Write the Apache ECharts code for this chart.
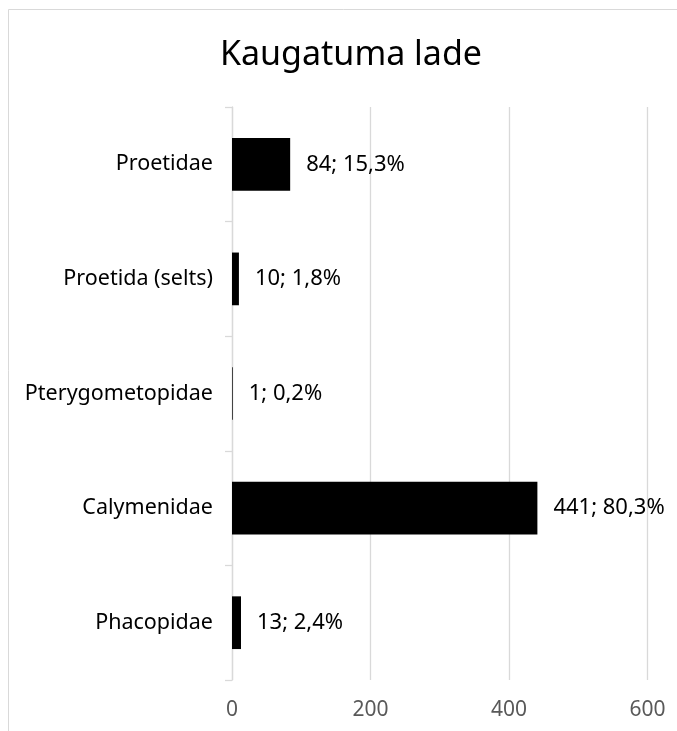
<!DOCTYPE html>
<html>
<head>
<meta charset="utf-8">
<script src="https://cdn.jsdelivr.net/npm/echarts@6/dist/echarts.min.js"></script>
<style>
html,body{margin:0;padding:0;background:#fff;}
#c{width:677px;height:731px;}
</style>
</head>
<body>
<div id="c"></div>
<script>
const categories = ["Proetidae", "Proetida (selts)", "Pterygometopidae", "Calymenidae", "Phacopidae"];
const counts = [84, 10, 1, 441, 13];
const percents = ["15,3", "1,8", "0,2", "80,3", "2,4"];
const xTicks = [0, 200, 400, 600];
const title = "Kaugatuma lade";

const FONT = "'Noto Sans', 'Liberation Sans', sans-serif";
const chart = echarts.init(document.getElementById('c'), null, {renderer: 'canvas'});
chart.setOption({
  animation: false,
  backgroundColor: '#fff',
  graphic: [{
    type: 'rect', left: 6, top: 7, shape: {width: 690, height: 740},
    style: {fill: 'none', stroke: '#d9d9d9', lineWidth: 1}, silent: true, z: -1
  }],
  title: {
    text: title, left: 346, top: 33, textAlign: 'center',
    textStyle: {fontFamily: FONT, fontSize: 34, fontWeight: 'normal', color: '#000'}
  },
  grid: {left: 232, right: 29.5, top: 107, bottom: 51},
  xAxis: {
    type: 'value', min: xTicks[0], max: xTicks[xTicks.length - 1], interval: 200,
    axisLine: {show: false}, axisTick: {show: false},
    splitLine: {lineStyle: {color: '#d9d9d9', width: 1.3}},
    axisLabel: {fontFamily: FONT, fontSize: 21, color: '#595959', margin: 20}
  },
  yAxis: {
    type: 'category', data: categories, inverse: true,
    axisLine: {show: true, lineStyle: {color: '#d9d9d9', width: 1.3}},
    axisTick: {show: true, length: 7, lineStyle: {color: '#d9d9d9', width: 1.3}},
    axisLabel: {fontFamily: FONT, fontSize: 21.5, color: '#000', margin: 19}
  },
  series: [{
    type: 'bar',
    data: counts,
    barWidth: '46%',
    itemStyle: {color: '#000'},
    label: {
      show: true, position: 'right', distance: 16,
      fontFamily: FONT, fontSize: 22, color: '#000',
      formatter: p => p.value + '; ' + percents[p.dataIndex] + '%'
    }
  }]
});
</script>
</body>
</html>
